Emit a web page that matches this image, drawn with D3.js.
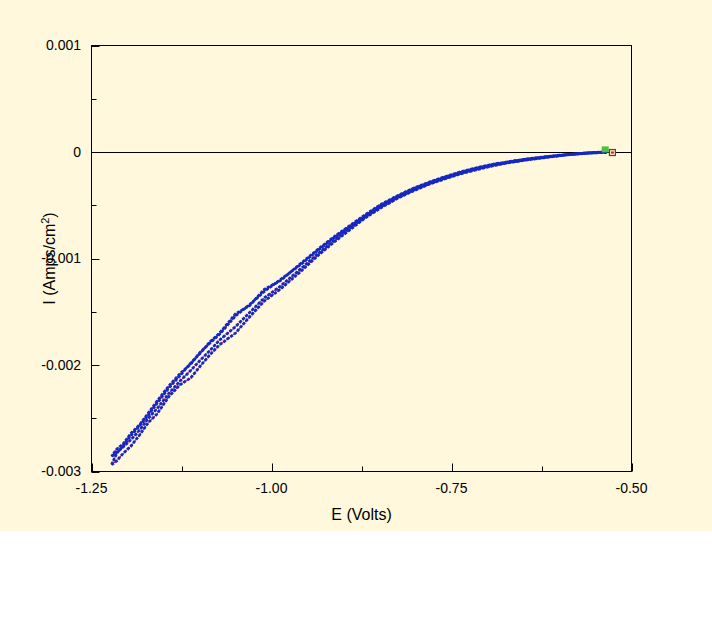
<!DOCTYPE html>
<html>
<head>
<meta charset="utf-8">
<script src="https://cdn.jsdelivr.net/npm/d3@7"></script>
<style>
  body { margin: 0; background: #fff; }
  svg { display: block; }
  text { font-family: "Liberation Sans", Arial, sans-serif; fill: #000; }
</style>
</head>
<body>
<script>
// Potential grid (V), shared by every sweep, from the rest potential down to the vertex
var potentials = [-0.534, -0.560, -0.590, -0.617, -0.645, -0.665, -0.690, -0.710, -0.735,
  -0.756, -0.780, -0.803, -0.825, -0.849, -0.870, -0.891, -0.912, -0.933, -0.960, -0.988,
  -1.010, -1.030, -1.050, -1.072, -1.085, -1.099, -1.112, -1.127, -1.143, -1.159, -1.171,
  -1.183, -1.195, -1.206, -1.215, -1.222];

// Current density (mA/cm2) for each sweep, same order as potentials
var down1 = [0.000, -0.010, -0.027, -0.050, -0.074, -0.095, -0.125, -0.158, -0.200,
  -0.245, -0.300, -0.365, -0.435, -0.528, -0.620, -0.730, -0.840, -0.958, -1.125, -1.290,
  -1.400, -1.545, -1.700, -1.810, -1.900, -2.010, -2.120, -2.185, -2.300, -2.460, -2.540,
  -2.655, -2.760, -2.830, -2.900, -2.936];
var up1 = [0.002, -0.008, -0.024, -0.042, -0.064, -0.085, -0.112, -0.140, -0.182,
  -0.225, -0.280, -0.340, -0.410, -0.495, -0.590, -0.690, -0.790, -0.900, -1.050, -1.210,
  -1.290, -1.440, -1.520, -1.700, -1.780, -1.890, -1.980, -2.100, -2.220, -2.360, -2.470,
  -2.570, -2.660, -2.760, -2.830, -2.936];
var down2 = [0.001, -0.011, -0.026, -0.048, -0.072, -0.092, -0.122, -0.152, -0.195,
  -0.240, -0.295, -0.358, -0.428, -0.518, -0.610, -0.712, -0.822, -0.940, -1.100, -1.262,
  -1.370, -1.505, -1.640, -1.765, -1.860, -1.955, -2.050, -2.150, -2.270, -2.410, -2.500,
  -2.610, -2.700, -2.770, -2.820, -2.858];
var up2 = [-0.005, -0.009, -0.025, -0.044, -0.066, -0.087, -0.115, -0.143, -0.186,
  -0.230, -0.285, -0.345, -0.418, -0.505, -0.600, -0.700, -0.800, -0.910, -1.060, -1.200,
  -1.310, -1.430, -1.540, -1.710, -1.790, -1.880, -1.990, -2.080, -2.200, -2.340, -2.450,
  -2.560, -2.640, -2.740, -2.790, -2.858];
var sweeps = [down1, up1, down2, up2];

// first and last recorded points (V, mA/cm2)
var startPoint = [-0.5365, 0.02];
var endPoint = [-0.5265, -0.005];

var xTicks = [-1.25, -1.125, -1.00, -0.875, -0.75, -0.625, -0.50];
var xLabels = [-1.25, -1.00, -0.75, -0.50];
var yTicks = [-0.003, -0.0025, -0.002, -0.0015, -0.001, -0.0005, 0, 0.0005, 0.001];
var yLabels = [-0.003, -0.002, -0.001, 0, 0.001];

var W = 712, H = 640;
var plotL = 91.5, plotR = 631.5, plotT = 45.5, plotB = 471.5;

var svg = d3.select("body").append("svg")
  .attr("width", W)
  .attr("height", H);

svg.append("rect")
  .attr("width", W)
  .attr("height", 531)
  .attr("fill", "#fff8dc");

var x = d3.scaleLinear().domain([-1.25, -0.5]).range([plotL, plotR]);
var y = d3.scaleLinear().domain([-0.003, 0.001]).range([plotB, plotT]);

// zero line
svg.append("line")
  .attr("x1", plotL).attr("x2", plotR)
  .attr("y1", Math.round(y(0)) + 0.5).attr("y2", Math.round(y(0)) + 0.5)
  .attr("stroke", "#000");

// curves: thin red line with blue dotted markers over it
var line = d3.line()
  .x(function(d) { return x(d[0]); })
  .y(function(d) { return y(d[1] / 1000); });

sweeps.forEach(function(s) {
  var pts = potentials.map(function(e, i) { return [e, s[i]]; });
  svg.append("path")
    .attr("d", line(pts))
    .attr("fill", "none")
    .attr("stroke", "#b8205a")
    .attr("stroke-width", 1);
});
sweeps.forEach(function(s, k) {
  var pts = potentials.map(function(e, i) { return [e, s[i]]; });
  svg.append("path")
    .attr("d", line(pts))
    .attr("fill", "none")
    .attr("stroke", "#1428c4")
    .attr("stroke-width", 2.8)
    .attr("stroke-dasharray", "3,1.4")
    .attr("stroke-dashoffset", k * 1.3);
});

// start / end markers
svg.append("rect")
  .attr("x", x(startPoint[0]) - 3.5).attr("y", y(startPoint[1] / 1000) - 3.5)
  .attr("width", 7).attr("height", 6)
  .attr("fill", "#4cc040");
svg.append("rect")
  .attr("x", x(endPoint[0]) - 3).attr("y", y(endPoint[1] / 1000) - 3)
  .attr("width", 6).attr("height", 6)
  .attr("fill", "#f4e8d0")
  .attr("stroke", "#7a3a14")
  .attr("stroke-width", 1.2);
svg.append("rect")
  .attr("x", x(endPoint[0]) - 1.5).attr("y", y(endPoint[1] / 1000) - 1)
  .attr("width", 3).attr("height", 2)
  .attr("fill", "#d02020");

// frame
svg.append("rect")
  .attr("x", plotL).attr("y", plotT)
  .attr("width", plotR - plotL).attr("height", plotB - plotT)
  .attr("fill", "none")
  .attr("stroke", "#000");

// inward ticks
function isMajor(v, list) {
  return list.some(function(l) { return Math.abs(l - v) < 1e-9; });
}
svg.selectAll(".xtick").data(xTicks).enter().append("line")
  .attr("x1", function(d) { return Math.round(x(d)) + 0.5; })
  .attr("x2", function(d) { return Math.round(x(d)) + 0.5; })
  .attr("y1", plotB)
  .attr("y2", function(d) { return plotB - (isMajor(d, xLabels) ? 8 : 5); })
  .attr("stroke", "#000");
svg.selectAll(".ytick").data(yTicks).enter().append("line")
  .attr("y1", function(d) { return Math.round(y(d)) + 0.5; })
  .attr("y2", function(d) { return Math.round(y(d)) + 0.5; })
  .attr("x1", plotL)
  .attr("x2", function(d) { return plotL + (isMajor(d, yLabels) ? 8 : 5); })
  .attr("stroke", "#000");

// tick labels
svg.selectAll(".xlab").data(xLabels).enter().append("text")
  .attr("x", function(d) { return x(d); })
  .attr("y", plotB + 21.5)
  .attr("text-anchor", "middle")
  .style("font-size", "14px")
  .text(function(d) { return d3.format(".2f")(d).replace("\u2212", "-"); });
svg.selectAll(".ylab").data(yLabels).enter().append("text")
  .attr("x", 81)
  .attr("y", function(d) { return y(d); })
  .attr("dy", "0.35em")
  .attr("text-anchor", "end")
  .style("font-size", "14px")
  .text(function(d) { return d === 0 ? "0" : d3.format(".3f")(d).replace("\u2212", "-"); });

// axis titles
svg.append("text")
  .attr("x", (plotL + plotR) / 2)
  .attr("y", 520)
  .attr("text-anchor", "middle")
  .style("font-size", "16px")
  .text("E (Volts)");

var yt = svg.append("text")
  .attr("transform", "translate(55," + (plotT + plotB) / 2 + ") rotate(-90)")
  .attr("text-anchor", "middle")
  .style("font-size", "16px");
yt.append("tspan").text("I (Amps/cm");
yt.append("tspan").attr("dy", -6).style("font-size", "11px").text("2");
yt.append("tspan").attr("dy", 6).text(")");
</script>
</body>
</html>
